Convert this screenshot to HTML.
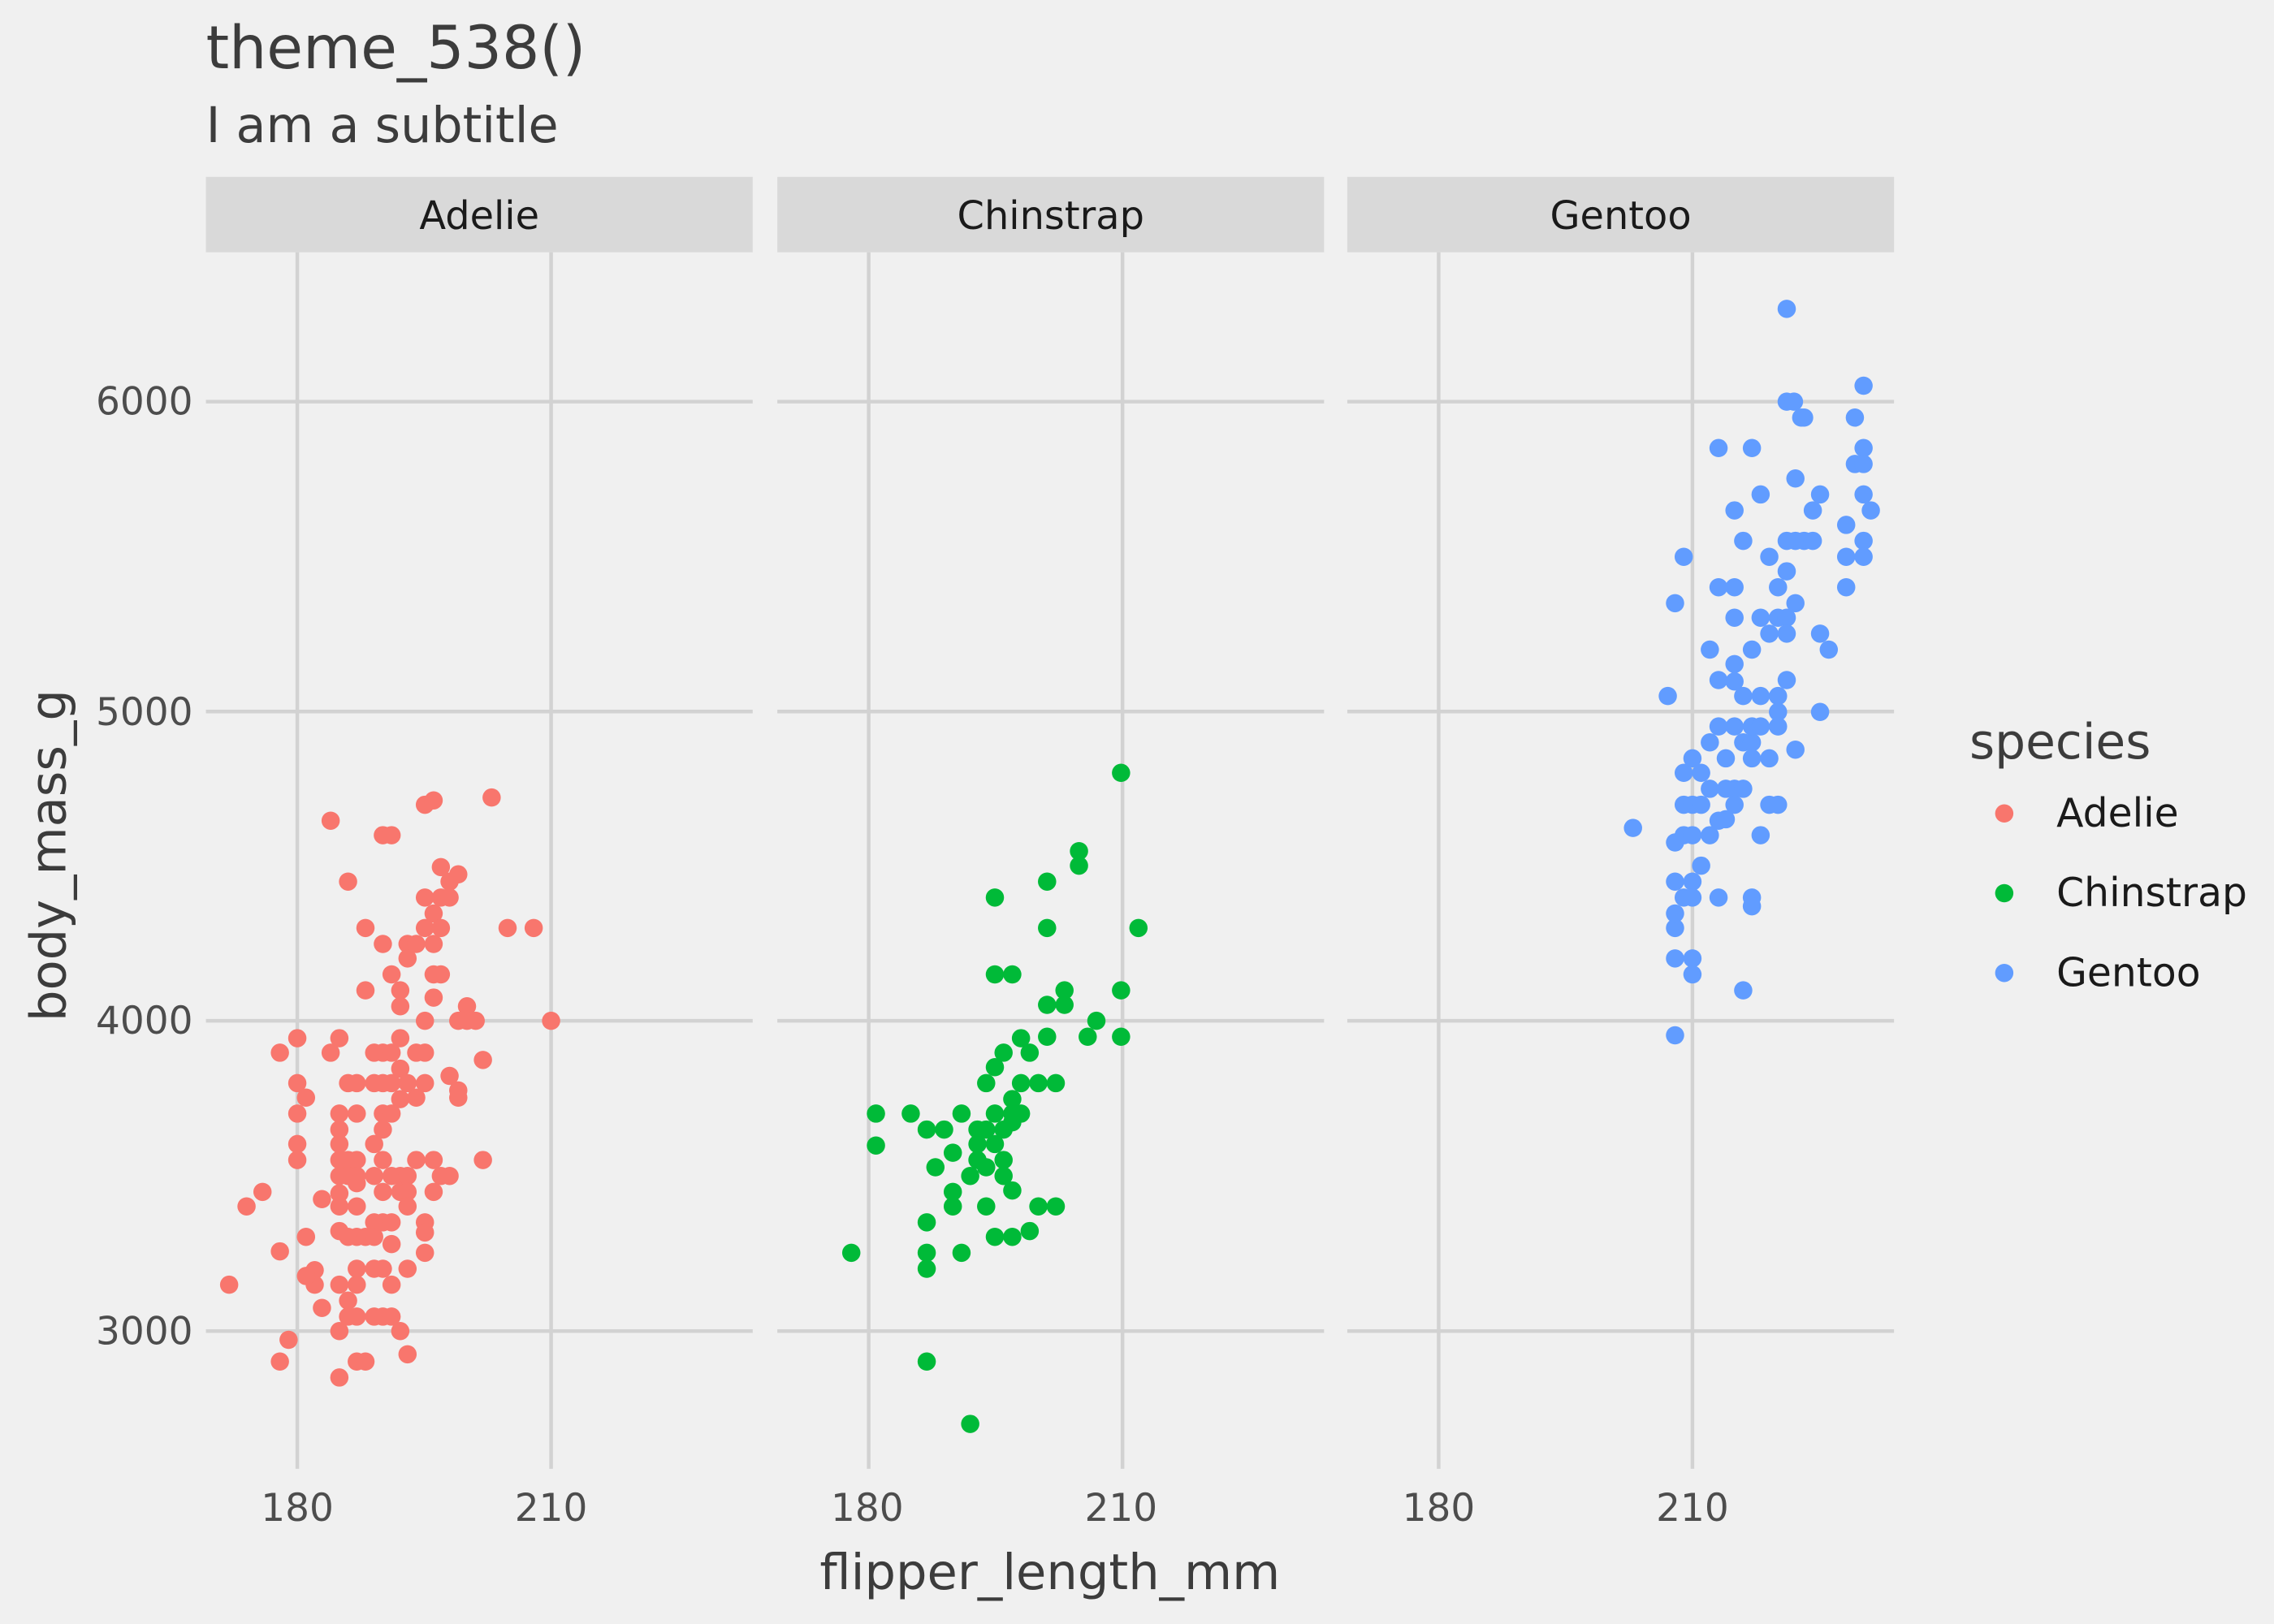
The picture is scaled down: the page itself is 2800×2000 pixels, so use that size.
<!DOCTYPE html>
<html><head><meta charset="utf-8"><style>html,body{margin:0;padding:0;background:#F0F0F0}svg{display:block}text{font-family:"DejaVu Sans","Liberation Sans",sans-serif}</style></head>
<body>
<svg id="s" width="2800" height="2000" viewBox="0 0 1568 1120" xmlns="http://www.w3.org/2000/svg">
<rect width="1568" height="1120" fill="#F0F0F0"/>
<text x="142" y="47" font-size="40.8" fill="#3C3C3C">theme_538()</text>
<text x="142" y="98" font-size="33.8" fill="#3C3C3C">I am a subtitle</text>
<g id="panels"></g>
<g font-size="26.3" fill="#4D4D4D" text-anchor="end">
<text x="133" y="286">6000</text><text x="133" y="500">5000</text><text x="133" y="713">4000</text><text x="133" y="927">3000</text>
</g>
<g font-size="26.3" fill="#4D4D4D" text-anchor="middle">
<text x="205" y="1049">180</text><text x="380" y="1049">210</text>
<text x="598" y="1049">180</text><text x="773" y="1049">210</text>
<text x="992" y="1049">180</text><text x="1167" y="1049">210</text>
</g>
<text x="724" y="1096" font-size="34" fill="#3C3C3C" text-anchor="middle">flipper_length_mm</text>
<text transform="translate(45,590) rotate(-90)" font-size="34" fill="#3C3C3C" text-anchor="middle">body_mass_g</text>
<text x="1358" y="523" font-size="33.5" fill="#3C3C3C">species</text>
<circle cx="1382" cy="561" r="6.3" fill="#F8766D"/><circle cx="1382" cy="616" r="6.3" fill="#00BA38"/><circle cx="1382" cy="671" r="6.3" fill="#619CFF"/>
<g font-size="27.3" fill="#1A1A1A"><text x="1418" y="570">Adelie</text><text x="1418" y="625">Chinstrap</text><text x="1418" y="680">Gentoo</text></g>
<g id="pts"></g>
</svg>
<script>
var NS="http://www.w3.org/2000/svg",P=document.getElementById("panels"),G=document.getElementById("pts");
function el(t,a,p){var e=document.createElementNS(NS,t);for(var k in a)e.setAttribute(k,a[k]);p.appendChild(e);return e;}
var lefts=[142,536,929],names=["Adelie","Chinstrap","Gentoo"];
lefts.forEach(function(l,i){
 var r=l+377;
 el("rect",{x:l,y:122,width:377,height:52,fill:"#D9D9D9"},P);
 var t=el("text",{x:l+188.5,y:158,"font-size":26.8,fill:"#1A1A1A","text-anchor":"middle"},P);t.textContent=names[i];
 [277,490.7,704,918].forEach(function(y){el("line",{x1:l,x2:r,y1:y,y2:y,stroke:"#D2D2D2","stroke-width":2.5},P);});
 [l+63,l+238].forEach(function(x){el("line",{x1:x,x2:x,y1:174,y2:1013,stroke:"#D2D2D2","stroke-width":2.5},P);});
});
var A=[[158,886],[170,832],[181,822],[193,863],[193,939],[199,924],[193,726],[205,716],[205,747],[205,768],[205,789],[205,800],[211,757],[211,853],[217,876],[217,886],[211,880],[222,902],[222,827],[228,566],[228,726],[234,716],[234,768],[234,779],[234,789],[234,800],[234,811],[234,823],[234,832],[234,849],[234,886],[234,918],[234,950],[240,608],[240,747],[240,800],[240,811],[240,853],[240,897],[240,908],[246,747],[246,768],[246,800],[246,811],[246,816],[246,832],[246,853],[246,875],[246,886],[246,908],[246,939],[252,683],[252,640],[252,853],[252,939],[258,726],[258,747],[258,789],[258,811],[258,843],[258,853],[258,875],[258,908],[264,576],[264,651],[264,726],[264,747],[264,768],[264,779],[264,800],[264,822],[264,843],[264,875],[264,908],[270,576],[270,672],[270,726],[270,747],[270,768],[270,811],[270,843],[270,858],[270,886],[270,908],[276,683],[276,694],[276,716],[276,737],[276,758],[276,811],[276,822],[276,918],[281,651],[281,661],[281,747],[281,811],[281,822],[281,832],[281,875],[281,934],[287,651],[287,726],[287,757],[287,800],[293,555],[293,619],[293,640],[293,704],[293,726],[293,747],[293,843],[293,864],[293,850],[299,630],[299,651],[299,672],[299,688],[299,800],[299,822],[299,552],[304,598],[304,619],[304,811],[304,640],[304,672],[310,608],[310,619],[310,742],[310,811],[316,603],[316,704],[322,694],[322,704],[316,752],[316,757],[328,704],[333,731],[333,800],[339,550],[350,640],[368,640],[380,704]];
var C=[[587,864],[604,768],[604,790],[628,768],[639,779],[639,843],[639,864],[639,875],[639,939],[645,805],[651,779],[657,795],[657,822],[657,832],[663,768],[663,864],[669,811],[669,982],[674,779],[674,789],[674,800],[680,747],[680,779],[680,805],[680,832],[686,619],[686,672],[686,736],[686,768],[686,789],[686,853],[692,726],[692,779],[692,800],[692,811],[698,672],[698,758],[698,768],[698,774],[698,821],[698,853],[704,716],[704,747],[704,768],[710,726],[710,849],[716,747],[716,832],[722,608],[722,640],[722,693],[722,715],[728,747],[728,832],[734,683],[734,693],[750,715],[756,704],[744,587],[744,597],[773,533],[773,683],[773,715],[785,640]];
var Gn=[[1126,571],[1150,480],[1155,416],[1155,714],[1155,661],[1155,640],[1155,630],[1155,608],[1155,581],[1161,384],[1161,533],[1161,555],[1161,576],[1161,619],[1167,523],[1167,555],[1167,576],[1167,608],[1167,619],[1167,661],[1167,672],[1173,533],[1173,555],[1173,597],[1179,448],[1179,512],[1179,544],[1179,576],[1185,309],[1185,405],[1185,469],[1185,501],[1185,566],[1185,619],[1190,565],[1190,544],[1190,523],[1196,352],[1196,405],[1196,426],[1196,458],[1196,470],[1196,501],[1196,544],[1196,555],[1202,373],[1202,480],[1202,512],[1202,683],[1202,544],[1208,309],[1208,448],[1208,512],[1208,619],[1208,625],[1208,501],[1208,523],[1214,341],[1214,426],[1214,480],[1214,501],[1214,576],[1220,384],[1220,437],[1220,555],[1220,523],[1226,405],[1226,426],[1226,480],[1226,491],[1226,501],[1226,555],[1232,213],[1232,277],[1232,373],[1232,394],[1232,426],[1232,469],[1232,437],[1238,330],[1238,416],[1238,373],[1238,517],[1244,288],[1244,373],[1250,352],[1250,373],[1255,341],[1255,437],[1255,491],[1261,448],[1273,362],[1273,384],[1273,405],[1279,288],[1279,320],[1285,266],[1285,309],[1285,320],[1285,341],[1285,373],[1285,384],[1290,352],[1237,277],[1242,288]];
[[A,"#F8766D"],[C,"#00BA38"],[Gn,"#619CFF"]].forEach(function(s){s[0].forEach(function(p){el("circle",{cx:p[0],cy:p[1],r:6.3,fill:s[1]},G);});});
</script>
</body></html>
